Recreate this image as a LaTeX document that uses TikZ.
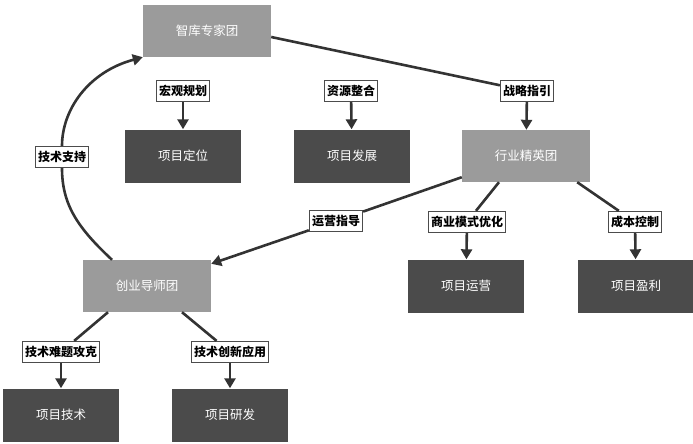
\documentclass[tikz,border=0pt]{standalone}
\usepackage{fontspec}
\setmainfont{Noto Sans CJK SC}
\usetikzlibrary{arrows.meta}
\definecolor{teamgray}{HTML}{9B9B9B}
\definecolor{projgray}{HTML}{4B4B4B}
\definecolor{linegray}{HTML}{333333}
\tikzset{
  team/.style={fill=teamgray, text=white, inner sep=0, minimum width=128, minimum height=52, font=\fontsize{12.5}{14}\selectfont},
  proj/.style={fill=projgray, text=white, inner sep=0, minimum width=116, minimum height=53, font=\fontsize{12.5}{14}\selectfont},
  tag/.style={draw=gray!60!black, fill=white, line width=1.3, inner xsep=2.5, inner ysep=0, minimum height=21, font=\bfseries\fontsize{12}{14}\selectfont},
  link/.style={draw=linegray, line width=2.6},
  arr/.style={link, -{Triangle[length=10,width=11]}}
}
\begin{document}
\begin{tikzpicture}[x=1pt,y=-1pt]
\useasboundingbox (0,0) rectangle (693,444);
% teams
\node[team] (zk) at (207,31) {智库专家团};
\node[team] (hy) at (526,156) {行业精英团};
\node[team] (cy) at (147,286) {创业导师团};
% projects
\node[proj] (p1) at (183,156) {项目定位};
\node[proj] (p2) at (352,156) {项目发展};
\node[proj] (p3) at (466,286) {项目运营};
\node[proj] (p4) at (636,286) {项目盈利};
\node[proj] (p5) at (61,415) {项目技术};
\node[proj] (p6) at (230,415) {项目研发};
% tags
\node[tag] (t1) at (183,91) {宏观规划};
\node[tag] (t2) at (351,91) {资源整合};
\node[tag] (t3) at (527,91) {战略指引};
\node[tag] (t4) at (62,157) {技术支持};
\node[tag] (t5) at (336,221) {运营指导};
\node[tag] (t6) at (467,222) {商业模式优化};
\node[tag] (t7) at (635,222) {成本控制};
\node[tag] (t8) at (61,352) {技术难题攻克};
\node[tag] (t9) at (230,352) {技术创新应用};
% links
\draw[arr] (t1) -- (p1);
\draw[arr] (t2) -- (p2);
\draw[link] ([yshift=-6]zk.east) -- (t3);
\draw[arr] (t3) -- (hy);
\draw[link] ([yshift=5]hy.south west) -- (t5);
\draw[arr] (t5) -- ([yshift=-4]cy.north east);
\draw[link] ([xshift=-27]hy.south) -- (t6);
\draw[arr] (t6) -- (p3);
\draw[link] ([xshift=-13]hy.south east) -- (t7);
\draw[arr] (t7) -- (p4);
\draw[link] ([xshift=-39]cy.south) -- (t8);
\draw[arr] (t8) -- (p5);
\draw[link] ([xshift=35]cy.south) -- (t9);
\draw[arr] (t9) -- (p6);
\draw[link] ([xshift=-35]cy.north) .. controls (78,228) and (62,205) .. (t4.south);
\draw[arr] (t4.north) .. controls (62,110) and (88,72) .. (zk.south west);
\end{tikzpicture}
\end{document}
